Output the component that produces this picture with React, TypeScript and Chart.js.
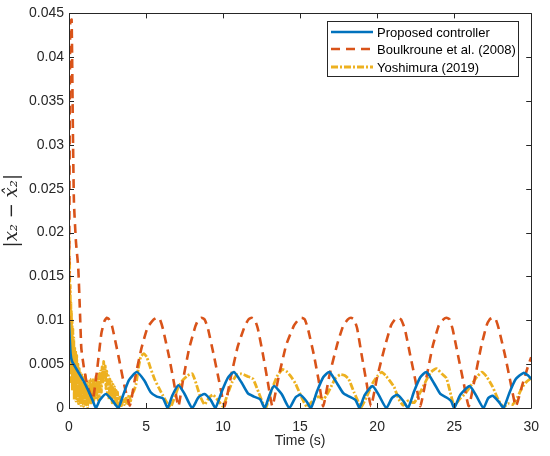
import React, { useEffect, useRef } from "react";
import { Chart, registerables } from "chart.js";

Chart.register(...registerables);

const xTicks = [0, 5, 10, 15, 20, 25, 30];
const yTicks = [0, 0.005, 0.01, 0.015, 0.02, 0.025, 0.03, 0.035, 0.04, 0.045];
const seriesNames = ["Proposed controller", "Boulkroune et al. (2008)", "Yoshimura (2019)"];

const proposedT = [0, 0.1, 0.2, 0.4, 0.7, 1.0, 1.3, 1.55, 1.75, 2.0, 2.4, 2.8, 3.2, 3.5, 3.9, 4.4, 4.9, 5.3, 5.7, 6.1, 6.4, 6.7, 7.1, 7.5, 8.0, 8.4, 8.8, 9.2, 9.5, 9.9, 10.3, 10.7, 11.2, 11.6, 12.0, 12.4, 12.7, 13.0, 13.3, 13.8, 14.3, 14.7, 15.0, 15.4, 15.7, 16.1, 16.5, 16.9, 17.4, 17.8, 18.2, 18.6, 18.85, 19.2, 19.7, 20.1, 20.6, 20.95, 21.3, 21.7, 22.0, 22.4, 22.8, 23.2, 23.7, 24.1, 24.5, 24.8, 25.0, 25.4, 26.0, 26.4, 26.9, 27.2, 27.5, 27.9, 28.2, 28.6, 29.0, 29.5, 29.8, 30];
const proposedY = [0.0098, 0.0062, 0.0053, 0.0047, 0.0038, 0.0029, 0.0018, 0.0008, 0.0, 0.0009, 0.0016, 0.0009, 0.0, 0.0014, 0.0032, 0.0041, 0.0031, 0.0018, 0.0013, 0.0011, 0.0, 0.0014, 0.0026, 0.0016, 0.0, 0.0012, 0.0016, 0.0009, 0.0, 0.0018, 0.0034, 0.0041, 0.0029, 0.0017, 0.0013, 0.001, 0.0, 0.0014, 0.0025, 0.0016, 0.0, 0.0012, 0.0015, 0.0008, 0.0, 0.0019, 0.0035, 0.0041, 0.0028, 0.0017, 0.0013, 0.0009, 0.0, 0.0015, 0.0025, 0.0015, 0.0, 0.0011, 0.0015, 0.0008, 0.0, 0.0019, 0.0035, 0.0041, 0.0028, 0.0016, 0.0012, 0.0008, 0.0, 0.0015, 0.0025, 0.0015, 0.0, 0.0011, 0.0014, 0.0007, 0.0, 0.0018, 0.0033, 0.004, 0.0037, 0.0033];

const boulkrouneT = [0, 0.08, 0.17, 0.25, 0.32, 0.45, 0.6, 0.7, 0.8, 0.95, 1.1, 1.3, 1.55, 1.8, 2.1, 2.3, 2.45, 2.6, 2.8, 3.2, 3.6, 3.95, 4.3, 4.7, 5.1, 5.5, 5.7, 5.9, 6.1, 6.5, 6.8, 7.1, 7.4, 7.8, 8.2, 8.4, 8.6, 8.8, 9.0, 9.4, 9.75, 10.1, 10.5, 10.95, 11.4, 11.65, 11.85, 12.05, 12.25, 12.6, 12.9, 13.2, 13.6, 14.1, 14.6, 14.9, 15.1, 15.3, 15.5, 15.9, 16.2, 16.5, 16.9, 17.4, 17.8, 18.1, 18.3, 18.5, 18.7, 19.0, 19.3, 19.6, 20.0, 20.5, 20.9, 21.15, 21.35, 21.55, 21.8, 22.15, 22.5, 22.8, 23.2, 23.6, 24.0, 24.3, 24.5, 24.7, 24.9, 25.25, 25.6, 25.95, 26.35, 26.75, 27.1, 27.3, 27.5, 27.7, 27.9, 28.3, 28.65, 29.0, 29.4, 29.8, 30];
const boulkrouneY = [0.0095, 0.044, 0.0443, 0.032, 0.0235, 0.019, 0.016, 0.0115, 0.0068, 0.0048, 0.0033, 0.002, 0.001, 0.004, 0.0085, 0.0099, 0.0103, 0.0101, 0.0093, 0.006, 0.0025, 0.0003, 0.0035, 0.0068, 0.0092, 0.0101, 0.0103, 0.0101, 0.009, 0.0058, 0.003, 0.0002, 0.0032, 0.0068, 0.0093, 0.0101, 0.0103, 0.0101, 0.0092, 0.006, 0.003, 0.0002, 0.0035, 0.007, 0.0093, 0.0101, 0.0103, 0.0101, 0.0091, 0.006, 0.003, 0.0002, 0.0035, 0.0072, 0.0094, 0.0101, 0.0103, 0.0101, 0.0091, 0.006, 0.0032, 0.0002, 0.0037, 0.0072, 0.0094, 0.0101, 0.0103, 0.0101, 0.0091, 0.006, 0.003, 0.0002, 0.0035, 0.007, 0.0094, 0.0101, 0.0103, 0.0101, 0.009, 0.006, 0.003, 0.0002, 0.0035, 0.007, 0.0094, 0.0101, 0.0103, 0.0101, 0.009, 0.006, 0.003, 0.0002, 0.0035, 0.007, 0.0094, 0.0101, 0.0103, 0.0101, 0.009, 0.006, 0.003, 0.0002, 0.0025, 0.0048, 0.0058];

const yoshimuraT = [0, 0.02, 0.04, 0.06, 0.08, 0.1, 0.12, 0.14, 0.16, 0.18, 0.2, 0.22, 0.25, 0.28, 0.31, 0.34, 0.37, 0.4, 0.43, 0.46, 0.5, 0.54, 0.58, 0.62, 0.66, 0.7, 0.74, 0.78, 0.82, 0.86, 0.9, 0.94, 0.98, 1.02, 1.06, 1.1, 1.15, 1.2, 1.25, 1.3, 1.35, 1.4, 1.45, 1.5, 1.55, 1.6, 1.65, 1.7, 1.75, 1.8, 1.85, 1.9, 1.95, 2.0, 2.05, 2.1, 2.15, 2.2, 2.25, 2.3, 2.35, 2.4, 2.45, 2.5, 2.55, 2.6, 2.65, 2.7, 2.75, 2.8, 2.85, 2.9, 2.95, 3.0, 3.05, 3.1, 3.15, 3.2, 3.3, 3.4, 3.5, 3.6, 3.7, 3.8, 3.9, 4.0, 4.1, 4.2, 4.35, 4.5, 4.65, 4.85, 5.05, 5.3, 5.55, 5.8, 6.1, 6.4, 6.6, 6.85, 7.1, 7.4, 7.7, 8.0, 8.25, 8.5, 8.8, 9.1, 9.35, 9.7, 10.0, 10.3, 10.6, 10.9, 11.2, 11.6, 11.95, 12.3, 12.6, 12.8, 13.1, 13.5, 13.85, 14.1, 14.4, 14.7, 15.1, 15.45, 15.8, 16.2, 16.5, 16.7, 17.0, 17.3, 17.6, 17.9, 18.15, 18.5, 18.8, 18.96, 19.3, 19.7, 20.0, 20.3, 20.6, 21.1, 21.4, 21.7, 22.0, 22.4, 22.8, 23.2, 23.5, 23.85, 24.2, 24.5, 24.8, 25.0, 25.4, 25.75, 26.1, 26.5, 26.8, 27.1, 27.5, 27.9, 28.2, 28.5, 28.8, 29.1, 29.4, 29.7, 30];
const yoshimuraY = [0.0195, 0.011, 0.017, 0.007, 0.014, 0.005, 0.012, 0.003, 0.011, 0.004, 0.01, 0.002, 0.009, 0.003, 0.008, 0.001, 0.007, 0.002, 0.0065, 0.0008, 0.006, 0.001, 0.005, 0.0005, 0.0045, 0.001, 0.004, 0.0003, 0.0038, 0.0008, 0.0035, 0.0002, 0.0032, 0.0009, 0.0038, 0.0004, 0.003, 0.0001, 0.0028, 0.0007, 0.0033, 0.0004, 0.003, 0.0008, 0.0034, 0.0006, 0.0029, 0.001, 0.0036, 0.0012, 0.0033, 0.0009, 0.0039, 0.0014, 0.0042, 0.0018, 0.0047, 0.0028, 0.0053, 0.0035, 0.0048, 0.0022, 0.0042, 0.0015, 0.0037, 0.001, 0.0033, 0.0012, 0.003, 0.0006, 0.0027, 0.0009, 0.0024, 0.0004, 0.002, 0.0006, 0.0018, 0.0003, 0.0014, 0.0001, 0.0011, 0.0004, 0.0013, 0.0005, 0.0015, 0.0008, 0.0016, 0.0019, 0.0027, 0.0045, 0.0058, 0.0062, 0.0058, 0.0045, 0.0033, 0.0024, 0.0014, 0.0005, 0.0001, 0.0012, 0.0024, 0.0032, 0.0037, 0.0039, 0.0028, 0.0014, 0.0004, 0.0012, 0.0015, 0.0008, 0.0002, 0.0016, 0.003, 0.0038, 0.0039, 0.0036, 0.0033, 0.0018, 0.0005, 0.0001, 0.0018, 0.0036, 0.0044, 0.0042, 0.0036, 0.0028, 0.0012, 0.0001, 0.0008, 0.0013, 0.001, 0.0014, 0.0024, 0.0034, 0.0038, 0.0037, 0.0033, 0.0018, 0.0006, 0.0001, 0.0012, 0.0028, 0.0036, 0.0041, 0.0036, 0.0024, 0.001, 0.0003, 0.0008, 0.0006, 0.0018, 0.0032, 0.0041, 0.0045, 0.0039, 0.0034, 0.0014, 0.0003, 0.0011, 0.0017, 0.0026, 0.0036, 0.0041, 0.0036, 0.0024, 0.0008, 0.0001, 0.0005, 0.0004, 0.0012, 0.0023, 0.003, 0.0034];

const zip = (t: number[], y: number[]) => t.map((x, i) => ({ x, y: y[i] }));

const AXIS = "#262626";
const FONT = "'Liberation Sans', Arial, Helvetica, sans-serif";

const framePlugin = {
  id: "matlabFrame",
  afterDraw(chart: any) {
    const { ctx, chartArea: a, scales } = chart;
    ctx.save();
    ctx.strokeStyle = AXIS;
    ctx.lineWidth = 1;
    ctx.beginPath();
    ctx.rect(Math.round(a.left) + 0.5, Math.round(a.top) + 0.5, Math.round(a.right - a.left), Math.round(a.bottom - a.top));
    ctx.stroke();
    const tl = 5;
    ctx.beginPath();
    for (const v of xTicks) {
      const px = Math.round(scales.x.getPixelForValue(v)) + 0.5;
      ctx.moveTo(px, a.bottom);
      ctx.lineTo(px, a.bottom - tl);
      ctx.moveTo(px, a.top);
      ctx.lineTo(px, a.top + tl);
    }
    for (const v of yTicks) {
      const py = Math.round(scales.y.getPixelForValue(v)) + 0.5;
      ctx.moveTo(a.left, py);
      ctx.lineTo(a.left + tl, py);
      ctx.moveTo(a.right, py);
      ctx.lineTo(a.right - tl, py);
    }
    ctx.stroke();

    // legend box
    const bx = 327, by = 21, bw = 191, bh = 55;
    ctx.fillStyle = "#ffffff";
    ctx.fillRect(bx, by, bw, bh);
    ctx.strokeRect(bx + 0.5, by + 0.5, bw, bh);
    ctx.font = "13px " + FONT;
    ctx.textBaseline = "middle";
    ctx.textAlign = "left";
    const rows = [32, 49, 67];
    chart.data.datasets.forEach((ds: any, i: number) => {
      const y = rows[i];
      ctx.save();
      ctx.strokeStyle = ds.borderColor;
      ctx.lineWidth = ds.borderWidth;
      ctx.setLineDash(ds.borderDash || []);
      ctx.beginPath();
      ctx.moveTo(331, y);
      ctx.lineTo(373, y);
      ctx.stroke();
      ctx.restore();
      ctx.fillStyle = "#000000";
      ctx.fillText(ds.label, 377, y + 1);
    });
    ctx.restore();
  },
};

export default function App() {
  const ref = useRef<HTMLCanvasElement>(null);
  useEffect(() => {
    document.body.style.margin = "0";
    const chart = new Chart(ref.current as HTMLCanvasElement, {
      type: "line",
      data: {
        datasets: [
          {
            label: seriesNames[0],
            data: zip(proposedT, proposedY),
            borderColor: "#0072BD",
            borderWidth: 2.6,
            pointRadius: 0,
            tension: 0.2,
            fill: false,
          },
          {
            label: seriesNames[1],
            data: zip(boulkrouneT, boulkrouneY),
            borderColor: "#D95319",
            borderWidth: 2.6,
            borderDash: [9, 6],
            pointRadius: 0,
            tension: 0.15,
            fill: false,
          },
          {
            label: seriesNames[2],
            data: zip(yoshimuraT, yoshimuraY),
            borderColor: "#EDB120",
            borderWidth: 2.8,
            borderDash: [7, 2, 2, 2],
            pointRadius: 0,
            tension: 0.15,
            fill: false,
          },
        ],
      },
      options: {
        animation: false,
        responsive: false,
        layout: { padding: { left: 0, right: 10, top: 9, bottom: 0 } },
        plugins: { legend: { display: false }, tooltip: { enabled: false } },
        scales: {
          x: {
            type: "linear",
            min: 0,
            max: 30,
            grid: { display: false, drawTicks: false },
            border: { display: false },
            afterBuildTicks: (s: any) => {
              s.ticks = xTicks.map((v) => ({ value: v }));
            },
            afterFit: (s: any) => {
              s.height = 48;
            },
            ticks: {
              padding: 11,
              color: AXIS,
              font: { family: FONT, size: 14 },
              maxRotation: 0,
              callback: (v: any) => String(v),
            },
            title: {
              display: true,
              text: "Time (s)",
              color: AXIS,
              font: { family: FONT, size: 14 },
              padding: { top: 0, bottom: 6 },
            },
          },
          y: {
            type: "linear",
            min: 0,
            max: 0.045,
            grid: { display: false, drawTicks: false },
            border: { display: false },
            afterBuildTicks: (s: any) => {
              s.ticks = yTicks.map((v) => ({ value: v }));
            },
            afterFit: (s: any) => {
              s.width = 69;
            },
            ticks: {
              padding: 5,
              color: AXIS,
              font: { family: FONT, size: 14 },
              callback: (v: any) => String(Number(Number(v).toFixed(3))),
            },
            title: {
              display: true,
              text: "|x\u2082 \u2212 x\u0302\u2082|",
              color: AXIS,
              font: { family: "'DejaVu Serif', 'Liberation Serif', serif", size: 18, style: "italic" },
              padding: { top: 2, bottom: 0 },
            },
          },
        },
      },
      plugins: [framePlugin],
    });
    return () => chart.destroy();
  }, []);
  return (
    <div style={{ width: 550, height: 456 }}>
      <canvas ref={ref} width={550} height={456} style={{ display: "block" }} />
    </div>
  );
}
